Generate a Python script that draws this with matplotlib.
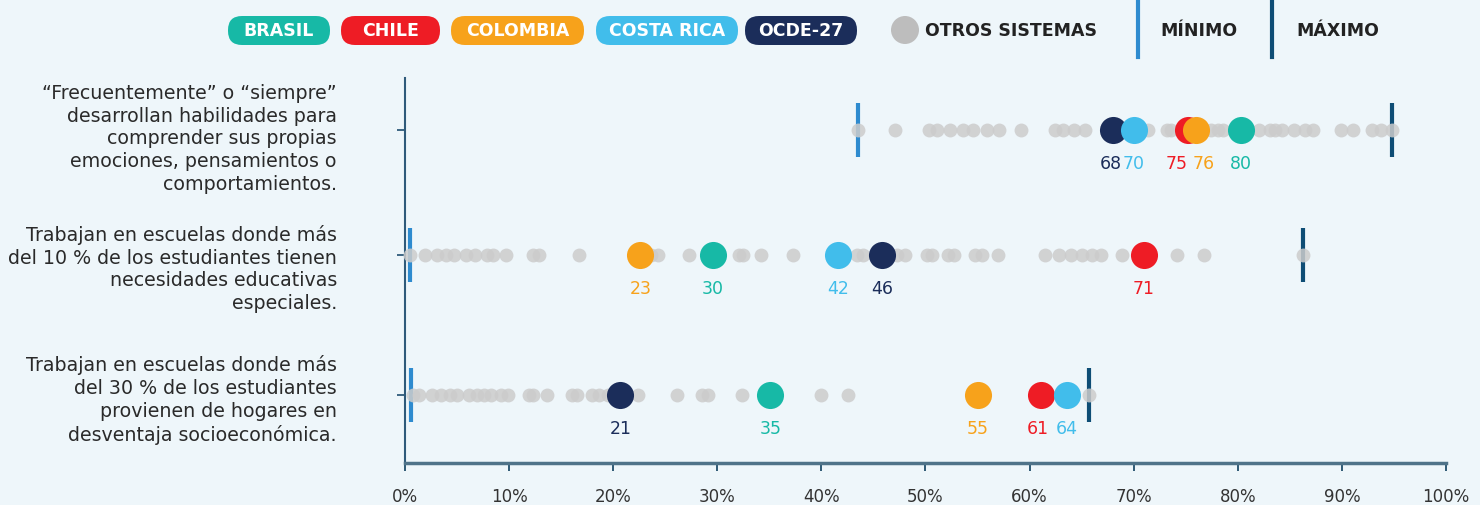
import numpy as np
import matplotlib
matplotlib.use("Agg")
import matplotlib.pyplot as plt
from matplotlib.patches import FancyBboxPatch, Circle

plt.rcParams['font.family'] = ['DejaVu Sans']

# rows (top to bottom)
rows = [
    "“Frecuentemente” o “siempre”\ndesarrollan habilidades para\ncomprender sus propias\nemociones, pensamientos o\ncomportamientos.",
    "Trabajan en escuelas donde más\ndel 10 % de los estudiantes tienen\nnecesidades educativas\nespeciales.",
    "Trabajan en escuelas donde más\ndel 30 % de los estudiantes\nprovienen de hogares en\ndesventaja socioeconómica.",
]

# highlighted systems, one value per row
brasil = [80.3, 29.6, 35.1]
chile = [75.2, 71.0, 61.1]
colombia = [76.0, 22.6, 55.0]
costa_rica = [70.0, 41.6, 63.6]
ocde = [68.0, 45.8, 20.7]

# other systems
otros_1 = [43.5, 47.1, 50.3, 51.1, 52.4, 53.6, 54.6, 55.9, 57.1, 59.2, 62.4, 63.2,
           64.3, 65.3, 71.4, 73.2, 73.6, 77.4, 78.1, 78.6, 82.0, 83.1, 83.6, 84.2,
           85.4, 86.5, 87.2, 89.9, 91.1, 92.9, 93.8, 94.8]
otros_2 = [0.5, 1.9, 3.1, 3.9, 4.7, 5.9, 6.7, 7.9, 8.5, 9.7, 12.3, 12.9, 16.7, 23.6,
           24.3, 27.3, 32.1, 32.5, 34.2, 37.3, 43.4, 44.0, 47.3, 48.0, 50.1, 50.6,
           52.2, 52.7, 54.8, 55.4, 57.0, 61.5, 62.8, 64.0, 65.0, 66.0, 66.9, 68.9,
           74.2, 76.8, 86.3]
otros_3 = [0.8, 1.3, 2.6, 3.5, 4.3, 5.0, 6.1, 6.9, 7.6, 8.3, 9.2, 9.9, 11.9, 12.3,
           13.6, 16.0, 16.5, 18.0, 18.6, 19.5, 22.4, 26.1, 28.5, 29.1, 32.4, 40.0,
           42.6, 65.7]
otros = [otros_1, otros_2, otros_3]

minimo = [43.5, 0.5, 0.6]
maximo = [94.8, 86.3, 65.7]

series = [  # drawing order
    ("OCDE-27", ocde, "#1b2d5a"),
    ("CHILE", chile, "#ee1c25"),
    ("COLOMBIA", colombia, "#f7a21b"),
    ("COSTA RICA", costa_rica, "#41bdeb"),
    ("BRASIL", brasil, "#17b9a6"),
]
# small horizontal nudges (px) for labels that would collide
nudge = {("CHILE", 0): -11, ("COLOMBIA", 0): 8, ("OCDE-27", 0): -2, ("CHILE", 2): -3}

W, H = 1480, 506
bg = "#eef6fa"
fig = plt.figure(figsize=(W / 100, H / 100), dpi=100, facecolor=bg)
ax = fig.add_axes([405 / W, 1 - 464 / H, (1446 - 405) / W, (464 - 79) / H])
ax.set_facecolor(bg)

ypos = [333, 208, 68]
ax.set_xlim(0, 100)
ax.set_ylim(0, 385)

for i, y in enumerate(ypos):
    ax.vlines(minimo[i], y - 27, y + 27, color="#2e8bcf", lw=3, zorder=2)
    ax.vlines(maximo[i], y - 27, y + 27, color="#0e4d75", lw=3, zorder=2)
    ax.scatter(otros[i], [y] * len(otros[i]), s=100, color="#cccccc", alpha=0.85,
               lw=0, zorder=3, clip_on=False)

for name, vals, col in series:
    ax.scatter(vals, ypos, s=380, color=col, lw=0, zorder=4, clip_on=False)
    for i, (v, y) in enumerate(zip(vals, ypos)):
        ax.annotate(f"{round(v)}", (v, y), xytext=(nudge.get((name, i), 0) * 0.72, -33 * 0.72),
                    textcoords="offset points", ha="center", va="center",
                    fontsize=12.5, color=col, zorder=5)

# axes styling
for s in ["top", "right"]:
    ax.spines[s].set_visible(False)
ax.spines["left"].set_color("#2f5a7a")
ax.spines["left"].set_linewidth(1.5)
ax.spines["bottom"].set_color("#4f7389")
ax.spines["bottom"].set_linewidth(2.5)

ax.set_xticks(np.arange(0, 101, 10))
ax.set_xticklabels([f"{t}%" for t in range(0, 101, 10)], fontsize=12, color="#333333")
ax.tick_params(axis="x", length=6, width=1.3, color="#1f4d6b", pad=11)
ax.set_yticks(ypos)
ax.set_yticklabels([])
ax.tick_params(axis="y", length=6, width=1.3, color="#2f5a7a")

label_shift = [8, 13, 4]
for txt, y, d in zip(rows, ypos, label_shift):
    ax.annotate(txt, (0, y), xytext=(-68 * 0.72, -d * 0.72), textcoords="offset points",
                ha="right", va="center", fontsize=13.7, color="#2a2a2a",
                linespacing=1.26, annotation_clip=False)

# legend (drawn in pixel coordinates)
pills = [("BRASIL", 228, 330, "#17b9a6"), ("CHILE", 341, 440, "#ee1c25"),
         ("COLOMBIA", 451, 584, "#f7a21b"), ("COSTA RICA", 596, 738, "#41bdeb"),
         ("OCDE-27", 745, 857, "#1b2d5a")]
for name, x0, x1, col in pills:
    p = FancyBboxPatch((x0, H - 46), x1 - x0, 29, transform=None,
                       boxstyle="round,pad=0,rounding_size=14",
                       facecolor=col, edgecolor="none")
    fig.patches.append(p)
    fig.text((x0 + x1) / 2 / W, 1 - 31.5 / H, name, ha="center", va="center",
             fontsize=12.5, fontweight="bold", color="white")

fig.patches.append(Circle((905, H - 31), 14, transform=None, facecolor="#bdbdbd",
                          edgecolor="none"))
fig.text(925 / W, 1 - 31.5 / H, "OTROS SISTEMAS", ha="left", va="center",
         fontsize=12.5, fontweight="bold", color="#222222")
fig.lines.append(plt.Line2D([1138, 1138], [H - 3, H - 58], transform=None,
                            color="#2e8bcf", lw=3))
fig.text(1160 / W, 1 - 31.5 / H, "MÍNIMO", ha="left", va="center",
         fontsize=12.5, fontweight="bold", color="#222222")
fig.lines.append(plt.Line2D([1272, 1272], [H - 3, H - 58], transform=None,
                            color="#0e4d75", lw=3))
fig.text(1296 / W, 1 - 31.5 / H, "MÁXIMO", ha="left", va="center",
         fontsize=12.5, fontweight="bold", color="#222222")

fig.savefig("out.png", dpi=100, facecolor=bg)
